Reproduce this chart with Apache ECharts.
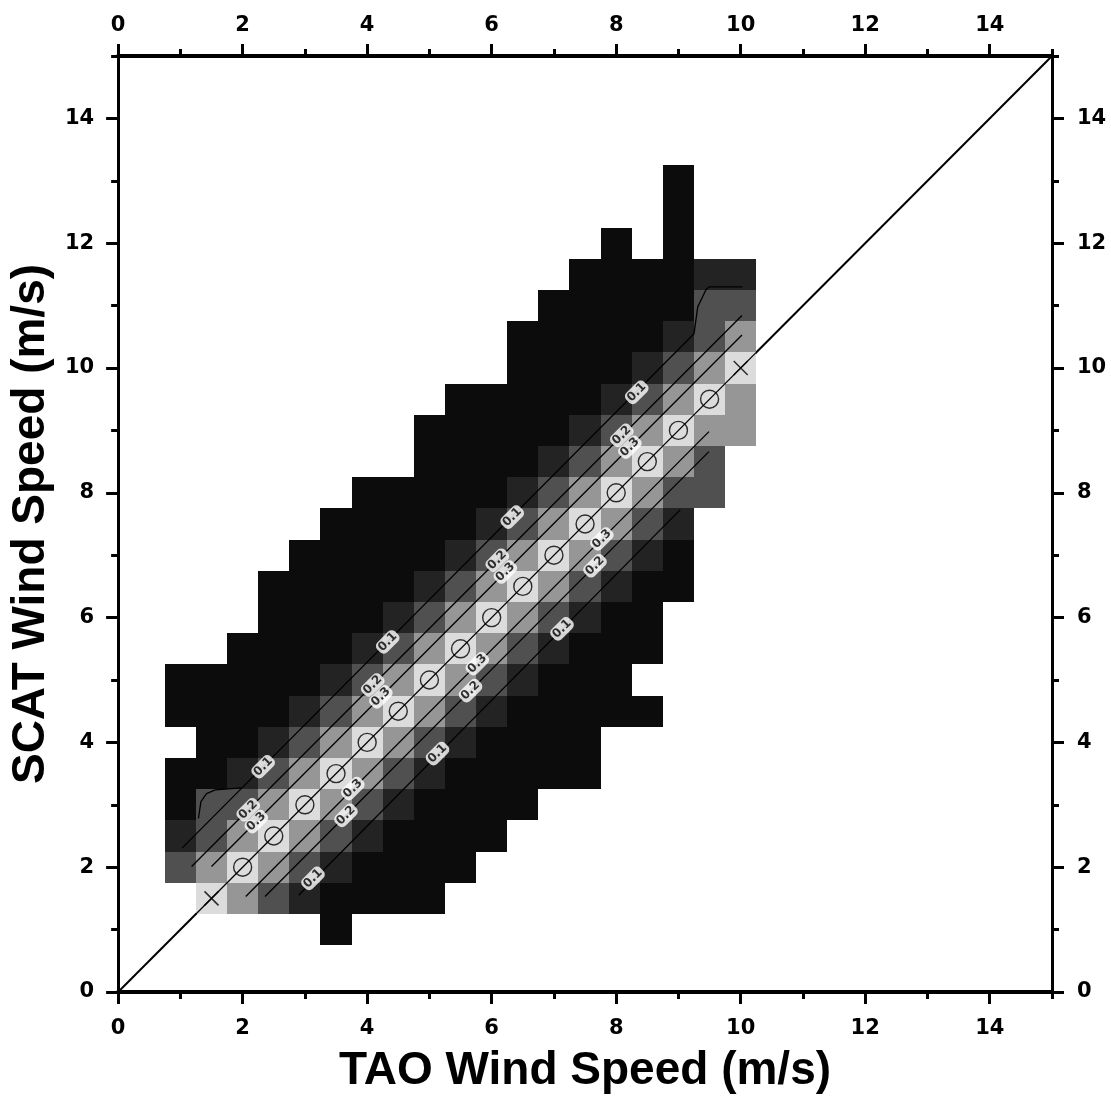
<!DOCTYPE html>
<html>
<head>
<meta charset="utf-8">
<title>SCAT vs TAO Wind Speed</title>
<script src="https://cdn.jsdelivr.net/npm/echarts@6/dist/echarts.min.js"></script>
<style>
  html, body { margin: 0; padding: 0; background: #fff; }
  #chart { width: 1111px; height: 1104px; }
</style>
</head>
<body>
<div id="chart"></div>
<script>
// histogram bins: centre of each row (SCAT), first bin centre (TAO) and the grey level of each bin
const binHalf = 0.25
const rowY = [1.0, 1.5, 2.0, 2.5, 3.0, 3.5, 4.0, 4.5, 5.0, 5.5, 6.0, 6.5, 7.0,
  7.5, 8.0, 8.5, 9.0, 9.5, 10.0, 10.5, 11.0, 11.5, 12.0, 12.5, 13.0]
const rowStart = [3.5, 1.5, 1.0, 1.0, 1.0, 1.0, 1.5, 1.0, 1.0, 2.0, 2.5, 2.5, 3.0,
  3.5, 4.0, 5.0, 5.0, 5.5, 6.5, 6.5, 7.0, 7.5, 8.0, 9.0, 9.0]
const rowLevels = [
  [0],
  [4, 3, 2, 1, 0, 0, 0, 0],
  [2, 3, 4, 3, 2, 1, 0, 0, 0, 0],
  [1, 2, 3, 4, 3, 2, 1, 0, 0, 0, 0],
  [0, 2, 2, 3, 4, 3, 2, 1, 0, 0, 0, 0],
  [0, 0, 1, 2, 3, 4, 3, 2, 1, 0, 0, 0, 0, 0],
  [0, 0, 1, 2, 3, 4, 3, 2, 1, 0, 0, 0, 0],
  [0, 0, 0, 0, 1, 2, 3, 4, 3, 2, 1, 0, 0, 0, 0, 0],
  [0, 0, 0, 0, 0, 1, 2, 3, 4, 3, 2, 1, 0, 0, 0],
  [0, 0, 0, 0, 1, 2, 3, 4, 3, 2, 1, 0, 0, 0],
  [0, 0, 0, 0, 1, 2, 3, 4, 3, 2, 1, 0, 0],
  [0, 0, 0, 0, 0, 1, 2, 3, 4, 3, 2, 1, 0, 0],
  [0, 0, 0, 0, 0, 1, 2, 3, 4, 3, 2, 1, 0],
  [0, 0, 0, 0, 0, 1, 2, 3, 4, 3, 2, 1],
  [0, 0, 0, 0, 0, 1, 2, 3, 4, 3, 2, 2],
  [0, 0, 0, 0, 1, 2, 3, 4, 3, 2],
  [0, 0, 0, 0, 0, 1, 2, 3, 4, 3, 3],
  [0, 0, 0, 0, 0, 1, 2, 3, 4, 3],
  [0, 0, 0, 0, 1, 2, 3, 4],
  [0, 0, 0, 0, 0, 1, 2, 3],
  [0, 0, 0, 0, 0, 2, 2],
  [0, 0, 0, 0, 1, 1],
  [0, null, 0],
  [0],
  [0]
]
const grayLevels = ['#0c0c0c', '#232323', '#505050', '#969696', '#dcdcdc']

// mean points on the diagonal and the two end crosses
const meanX = [2, 2.5, 3, 3.5, 4, 4.5, 5, 5.5, 6, 6.5, 7, 7.5, 8, 8.5, 9, 9.5]
const meanY = [2, 2.5, 3, 3.5, 4, 4.5, 5, 5.5, 6, 6.5, 7, 7.5, 8, 8.5, 9, 9.5]
const crossX = [1.5, 10]
const crossY = [1.5, 10]

// contour lines
const contours = [
  [[1.03, 2.31], [9.25, 10.55], [9.31, 10.98], [9.44, 11.25], [9.49, 11.3], [10.03, 11.3]],
  [[1.29, 2.78], [1.33, 3.05], [1.42, 3.18], [1.56, 3.24], [1.98, 3.27]],
  [[1.18, 2.01], [10.02, 10.84]],
  [[1.5, 2.01], [10.02, 10.53]],
  [[1.25, 1.25], [10.25, 10.25]],
  [[2.05, 1.53], [9.49, 8.98]],
  [[2.36, 1.53], [9.49, 8.66]],
  [[2.9, 1.55], [9.03, 7.73]]
]
const labelText = ['0.1', '0.1', '0.1', '0.1', '0.2', '0.2', '0.2', '0.2', '0.3', '0.3', '0.3', '0.3',
  '0.3', '0.3', '0.3', '0.2', '0.2', '0.2', '0.1', '0.1', '0.1']
const labelX = [2.33, 4.33, 6.33, 8.33, 2.09, 4.09, 6.09, 8.09, 2.22, 4.22, 6.22, 8.22,
  3.77, 5.77, 7.77, 3.66, 5.66, 7.66, 3.13, 5.13, 7.13]
const labelY = [3.61, 5.61, 7.61, 9.61, 2.92, 4.92, 6.92, 8.92, 2.73, 4.73, 6.73, 8.73,
  3.26, 5.26, 7.26, 2.83, 4.83, 6.83, 1.82, 3.82, 5.82]

const majorTicks = [0, 2, 4, 6, 8, 10, 12, 14]
const minorTicks = [1, 3, 5, 7, 9, 11, 13, 15]

const cells = []
rowY.forEach((y, i) => {
  rowLevels[i].forEach((lv, j) => {
    if (lv !== null) cells.push([rowStart[i] + j * 2 * binHalf, y, lv])
  })
})

const tickFont = {
  color: '#000',
  fontFamily: 'DejaVu Sans',
  fontWeight: 'bold',
  fontSize: 21
}
const titleFont = {
  color: '#000',
  fontFamily: 'Liberation Sans',
  fontWeight: 'bold',
  fontSize: 46
}

function mainAxis (position, margin, width) {
  return {
    type: 'value',
    position,
    min: 0,
    max: 15,
    interval: 2,
    axisLine: { show: true, onZero: false, lineStyle: { color: '#000', width } },
    axisTick: { show: true, customValues: majorTicks, length: 12, lineStyle: { color: '#000', width: 3 } },
    axisLabel: {
      show: true,
      customValues: majorTicks,
      margin,
      formatter: v => (v === 15 ? '' : v),
      ...tickFont
    },
    splitLine: { show: false }
  }
}

function minorAxis (position) {
  return {
    type: 'value',
    position,
    min: 0,
    max: 15,
    axisLine: { show: false, onZero: false },
    axisTick: { show: true, customValues: minorTicks, length: 7, lineStyle: { color: '#000', width: 3 } },
    axisLabel: { show: false },
    splitLine: { show: false }
  }
}

const chart = echarts.init(document.getElementById('chart'))
chart.setOption({
  animation: false,
  backgroundColor: '#fff',
  grid: { left: 116, top: 56, width: 936, height: 936 },
  xAxis: [
    {
      ...mainAxis('bottom', 26, 4),
      name: 'TAO Wind Speed (m/s)',
      nameLocation: 'middle',
      nameGap: 56,
      nameTextStyle: titleFont
    },
    mainAxis('top', 20, 4),
    minorAxis('bottom'),
    minorAxis('top')
  ],
  yAxis: [
    {
      ...mainAxis('left', 24, 3),
      name: 'SCAT Wind Speed (m/s)',
      nameLocation: 'middle',
      nameGap: 53,
      nameTextStyle: titleFont
    },
    mainAxis('right', 25, 3),
    minorAxis('left'),
    minorAxis('right')
  ],
  series: [
    {
      type: 'line',
      z: 1,
      silent: true,
      showSymbol: false,
      data: [[0, 0], [15, 15]],
      lineStyle: { color: '#000', width: 2 }
    },
    {
      type: 'custom',
      z: 2,
      silent: true,
      encode: { x: 0, y: 1 },
      data: cells,
      renderItem (params, api) {
        const x = api.value(0)
        const y = api.value(1)
        const p0 = api.coord([x - binHalf, y + binHalf])
        const p1 = api.coord([x + binHalf, y - binHalf])
        const x0 = Math.round(p0[0])
        const y0 = Math.round(p0[1])
        return {
          type: 'rect',
          shape: { x: x0, y: y0, width: Math.round(p1[0]) - x0, height: Math.round(p1[1]) - y0 },
          style: { fill: grayLevels[api.value(2)] }
        }
      }
    },
    ...contours.map(c => ({
      type: 'line',
      z: 3,
      silent: true,
      showSymbol: false,
      data: c,
      lineStyle: { color: '#000', width: 1.3 }
    })),
    {
      type: 'scatter',
      z: 4,
      silent: true,
      symbol: 'circle',
      symbolSize: 18,
      data: meanX.map((x, i) => [x, meanY[i]]),
      itemStyle: { color: 'transparent', borderColor: '#000', borderWidth: 1.4 }
    },
    {
      type: 'scatter',
      z: 4,
      silent: true,
      symbol: 'path://M0,0L10,10M10,0L0,10',
      symbolSize: 14,
      data: crossX.map((x, i) => [x, crossY[i]]),
      itemStyle: { color: 'none', borderColor: '#000', borderWidth: 1.5 }
    },
    {
      type: 'scatter',
      z: 5,
      silent: true,
      symbolSize: 1,
      itemStyle: { color: 'transparent' },
      data: labelX.map((x, i) => ({ value: [x, labelY[i]], name: labelText[i] })),
      label: {
        show: true,
        position: 'inside',
        formatter: '{b}',
        rotate: 45,
        color: '#000',
        fontFamily: 'DejaVu Sans',
        fontWeight: 'bold',
        fontSize: 12,
        backgroundColor: '#fff',
        padding: [1, 2],
        borderRadius: 5
      }
    }
  ]
})
</script>
</body>
</html>
